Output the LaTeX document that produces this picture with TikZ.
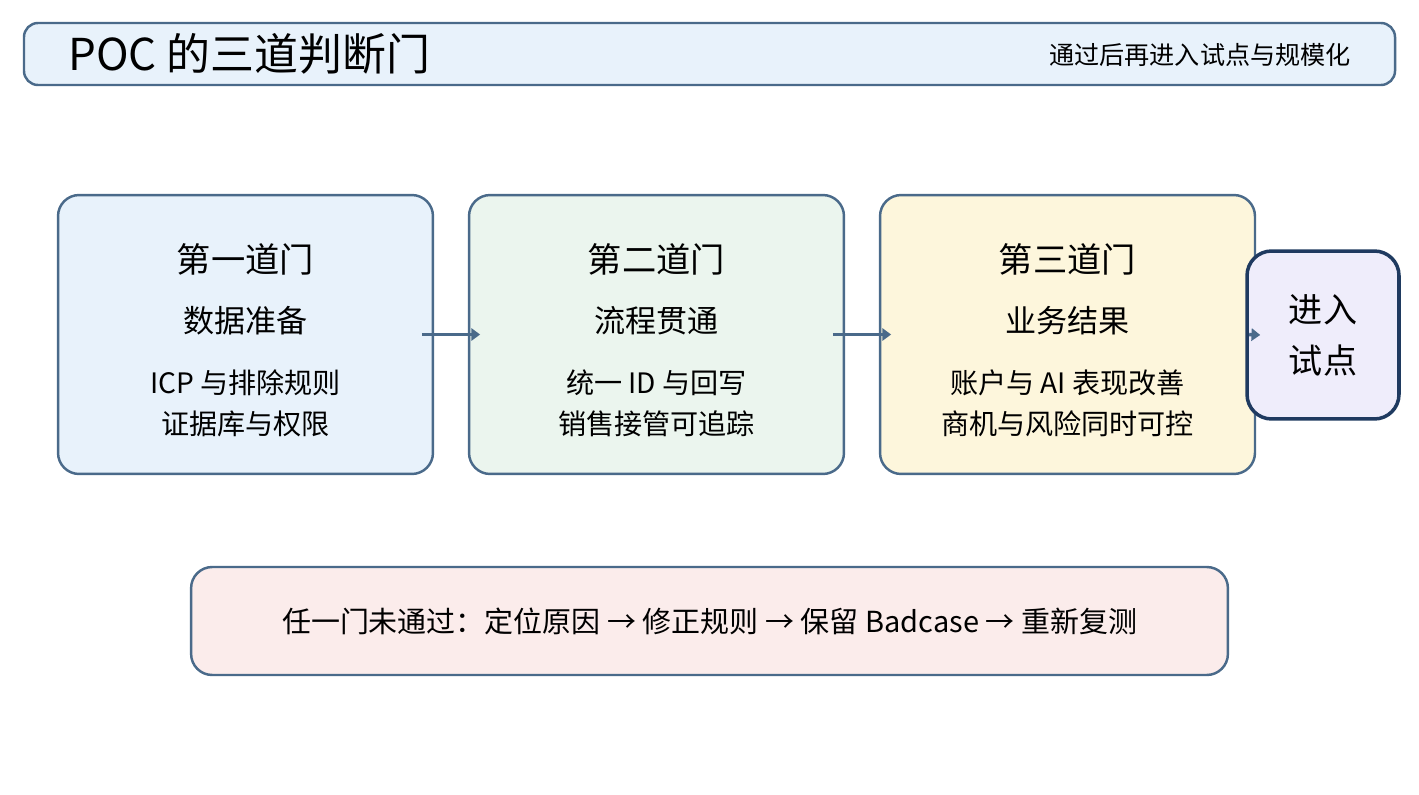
\documentclass[tikz,border=0pt]{standalone}
\usepackage{fontspec}
\setmainfont{Noto Sans CJK SC}
\usetikzlibrary{positioning,arrows.meta}
\definecolor{edgeblue}{HTML}{4A6A8A}
\definecolor{gatenavy}{HTML}{1F3A60}
\definecolor{fillblue}{HTML}{E8F2FB}
\definecolor{fillgreen}{HTML}{EBF5EE}
\definecolor{fillyellow}{HTML}{FDF6DC}
\definecolor{fillpurple}{HTML}{EFEDFB}
\definecolor{fillpink}{HTML}{FBECEB}
\tikzset{
  gate/.style={draw=edgeblue, line width=1.4pt, rounded corners=12pt, minimum width=7.5cm, minimum height=5.58cm},
  flowarrow/.style={draw=edgeblue, line width=2pt, -{Triangle[length=5pt,width=7pt]}, shorten <=-7pt, shorten >=-7pt}
}
\begin{document}
\begin{tikzpicture}[x=0.02cm,y=-0.02cm]
  \useasboundingbox (0,0) rectangle (1419,794);

  % header
  \draw[draw=edgeblue, line width=1.4pt, fill=fillblue, rounded corners=8pt] (24,23) rectangle (1395,85);
  \node[anchor=west, font=\fontsize{25}{30}\selectfont] (title) at (62,54) {POC 的三道判断门};
  \node[anchor=east, font=\fontsize{14.3}{17}\selectfont] (note) at (1357,55) {通过后再进入试点与规模化};

  % gates
  \node[gate, fill=fillblue] (g1) at (245.5,334.5) {};
  \node[gate, fill=fillgreen] (g2) at (656.5,334.5) {};
  \node[gate, fill=fillyellow] (g3) at (1067.5,334.5) {};
  \node[draw=gatenavy, line width=2pt, fill=fillpurple, rounded corners=14pt,
        minimum width=3.04cm, minimum height=3.36cm, align=center,
        font=\fontsize{19.4}{29}\selectfont] (pilot) at (1323,335) {进入\\试点};

  \foreach \g/\head/\sub/\lineA/\lineB in {
      g1/第一道门/数据准备/ICP 与排除规则/证据库与权限,
      g2/第二道门/流程贯通/统一 ID 与回写/销售接管可追踪,
      g3/第三道门/业务结果/账户与 AI 表现改善/商机与风险同时可控} {
    \node[font=\fontsize{19.5}{23}\selectfont] (\g-head) at ([yshift=1.5cm]\g.center) {\head};
    \node[font=\fontsize{17.7}{21}\selectfont] (\g-sub) at ([yshift=0.28cm]\g.center) {\sub};
    \node[font=\fontsize{16}{19}\selectfont] (\g-a) at ([yshift=-0.97cm]\g.center) {\lineA};
    \node[font=\fontsize{16}{19}\selectfont] (\g-b) at ([yshift=-1.79cm]\g.center) {\lineB};
  }

  \draw[flowarrow] (g1) -- (g2);
  \draw[flowarrow] (g2) -- (g3);
  \draw[flowarrow, shorten <=0pt, shorten >=0pt] ([xshift=-0.14cm]g3.east) -- ([xshift=0.3cm]pilot.west);

  % retry loop
  \node[draw=edgeblue, line width=1.4pt, fill=fillpink, rounded corners=12pt,
        minimum width=20.74cm, minimum height=2.16cm, font=\fontsize{16.5}{20}\selectfont]
        (retry) at (709.5,621) {任一门未通过：定位原因 → 修正规则 → 保留 Badcase → 重新复测};
\end{tikzpicture}
\end{document}
